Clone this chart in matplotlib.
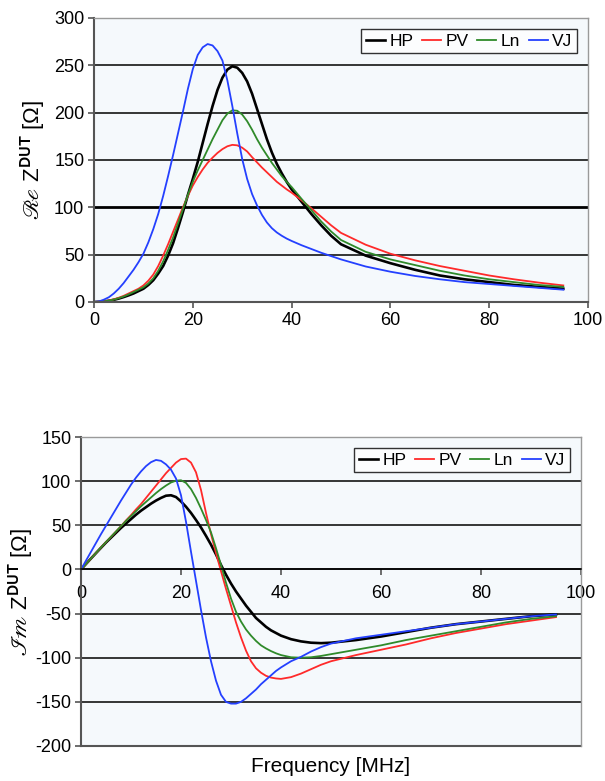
import numpy as np
import matplotlib
matplotlib.use("Agg")
import matplotlib.pyplot as plt

plt.rcParams['font.family'] = ['Liberation Sans', 'DejaVu Sans']
plt.rcParams['mathtext.fontset'] = 'stixsans'
plt.rcParams['axes.unicode_minus'] = False

series = ["HP", "PV", "Ln", "VJ"]
colors = ["#000000", "#ff2a2a", "#2f8a2a", "#2440ff"]
widths = [1.9, 1.3, 1.3, 1.3]

# frequency grid (MHz) used for both panels
freq = list(range(0, 41)) + [42, 44, 46, 48, 50, 55, 60, 65, 70, 75, 80, 85, 90, 95]

# real part [Ohm]
re_hp = [0, 0.2, 0.6, 1.3, 2.3, 3.6, 5.2, 7, 9, 11.5, 14, 18, 23, 30, 38, 49, 62, 78, 95, 113,
         130, 148, 168, 188, 207, 224, 237, 245.5, 249, 247.5, 242, 233, 220, 204, 188, 172, 158, 146, 136, 127,
         119, 106, 93, 81, 70, 61, 49, 41, 34, 28, 24, 21, 18, 16, 14]
re_pv = [0, 0.3, 0.8, 1.6, 2.8, 4.5, 6.5, 9, 11.5, 14, 17.5, 22.5, 29, 38, 49, 61, 74, 87, 100, 112,
         123, 132, 140, 147, 152.5, 157.5, 161.5, 164.5, 166, 165.5, 163, 159, 153, 147.5, 142, 137, 132, 127, 123, 119,
         115.5, 107.5, 99, 90, 81, 73, 60.5, 51, 44, 38, 33, 28, 24, 20.5, 17.5]
re_ln = [0, 0.25, 0.7, 1.4, 2.5, 4, 5.8, 8, 10.5, 13, 15.5, 19.5, 25, 33, 43, 55, 68, 83, 98, 113,
         127, 139, 150, 161, 172, 182, 192, 199, 202.5, 202, 198, 191, 182, 172, 163, 155, 147, 140, 133, 127,
         121.5, 109, 97, 85, 74.5, 65.5, 53, 45, 39, 33, 28, 24, 21, 18, 16]
re_vj = [0, 0.6, 2.5, 5, 9, 14, 20, 27, 34, 42, 51, 63, 77, 93, 112, 133, 155, 178, 201, 225,
         246, 261, 269, 272.5, 271, 265, 255, 234, 207, 178, 151, 130, 114, 102, 92, 84, 78, 73.5, 70, 67,
         64.5, 60, 56, 52, 48.5, 45, 37.5, 32, 27.5, 24, 21, 19, 17, 15, 13]

# imaginary part [Ohm]
im_hp = [0, 6.2, 12.4, 18.5, 24.5, 30.5, 36, 41.5, 47, 52, 57, 62, 66.5, 70.5, 74.5, 78, 81, 83.5, 84, 82,
         77, 71, 64, 56, 47.5, 38, 28, 17, 5, -6, -16, -25, -33, -41, -48, -55, -60, -65, -69, -72,
         -75, -79, -81.5, -83, -83.5, -83, -80, -76, -71, -66, -62, -59, -56, -53, -51]
im_pv = [0, 6.2, 12.4, 18.6, 24.8, 31, 37, 43, 49, 55.5, 61.5, 68, 74, 81, 88, 95, 102, 109, 115, 121,
         125, 125.5, 121, 110, 90, 64, 40, 18.5, -2, -22, -41, -60, -77, -92, -104, -112, -117, -120.5, -122.5, -123.5,
         -124, -122, -118, -113, -108, -104, -97, -91, -85, -78, -72, -67, -62, -58, -54]
im_ln = [0, 6.2, 12.4, 18.6, 24.8, 31, 37, 43, 49, 55, 60.5, 66, 71.5, 76.5, 81.5, 86.5, 91, 95, 98.5, 100.5,
         101, 98, 91, 81, 69, 56, 42, 24, 5, -15, -33, -48, -59, -68, -75, -81, -86, -89.5, -92.5, -95,
         -97, -99.5, -100, -99.5, -98, -96, -91, -86, -80, -75, -70, -65, -60, -56, -53]
im_vj = [0, 10, 20, 30, 40, 49.5, 59, 68.5, 78, 87, 96, 104, 111, 117, 121.5, 124, 123, 119, 113, 103,
         84, 54, 20, -13, -46, -77, -104, -126, -142, -150, -152, -152, -150, -146, -141, -136, -130, -125, -120, -115,
         -111, -104, -99, -93, -88, -84, -78, -74, -70, -66, -62, -59, -56, -53, -51]

re_data = [re_hp, re_pv, re_ln, re_vj]
im_data = [im_hp, im_pv, im_ln, im_vj]

W, H = 605, 781
fig = plt.figure(figsize=(W / 100, H / 100), dpi=100)
bg = "#f5f9fc"


def style(ax):
    ax.set_facecolor(bg)
    ax.yaxis.grid(True, color="#000000", lw=1.1)
    ax.set_axisbelow(True)
    for s in ["top", "right"]:
        ax.spines[s].set_color("#9a9a9a")
        ax.spines[s].set_linewidth(1.0)
    for s in ["left", "bottom"]:
        ax.spines[s].set_color("#555555")
        ax.spines[s].set_linewidth(1.5)
    ax.tick_params(direction="out", length=4, width=1.2, color="#555555",
                   labelsize=13, pad=3)
    ax.set_xlim(0, 100)
    ax.set_xticks([0, 20, 40, 60, 80, 100])


def legend(ax):
    leg = ax.legend(loc="upper right", ncol=4, fontsize=12.5, frameon=True, fancybox=False,
                    handlelength=1.1, handletextpad=0.25, columnspacing=0.5,
                    borderpad=0.25, borderaxespad=0.65)
    leg.get_frame().set_edgecolor("#000000")
    leg.get_frame().set_linewidth(1.0)
    leg.get_frame().set_facecolor("#ffffff")


# top panel
ax1 = fig.add_axes([94 / W, 1 - 302 / H, 494 / W, 284 / H])
style(ax1)
for name, vals, c, lw in zip(series, re_data, colors, widths):
    ax1.plot(freq, vals, color=c, lw=lw, label=name)
ax1.set_ylim(0, 300)
ax1.set_yticks(np.arange(0, 301, 50))
ax1.get_ygridlines()[2].set_linewidth(2.0)
ax1.set_ylabel(r"$\mathscr{R}\!\mathscr{e}$ Z$^{\mathbf{DUT}}$ [Ω]", fontsize=16, labelpad=5)
legend(ax1)

# bottom panel
ax2 = fig.add_axes([81 / W, 1 - 746 / H, 500 / W, 309 / H])
style(ax2)
for name, vals, c, lw in zip(series, im_data, colors, widths):
    ax2.plot(freq, vals, color=c, lw=lw, label=name)
ax2.set_ylim(-200, 150)
ax2.set_yticks(np.arange(-200, 151, 50))
ax2.spines["bottom"].set_position(("data", 0))
ax2.spines["bottom"].set_color("#000000")
ax2.spines["bottom"].set_linewidth(1.1)
ax2.axhline(-200, color="#555555", lw=1.5, clip_on=False)
ax2.set_ylabel(r"$\mathscr{I}\!\mathscr{m}$ Z$^{\mathbf{DUT}}$ [Ω]", fontsize=16, labelpad=0)
ax2.tick_params(axis="x", pad=7)
fig.text(331 / W, 1 - 766 / H, "Frequency [MHz]", ha="center", va="center", fontsize=15)
legend(ax2)

fig.savefig("out.png", dpi=100, facecolor="white")
